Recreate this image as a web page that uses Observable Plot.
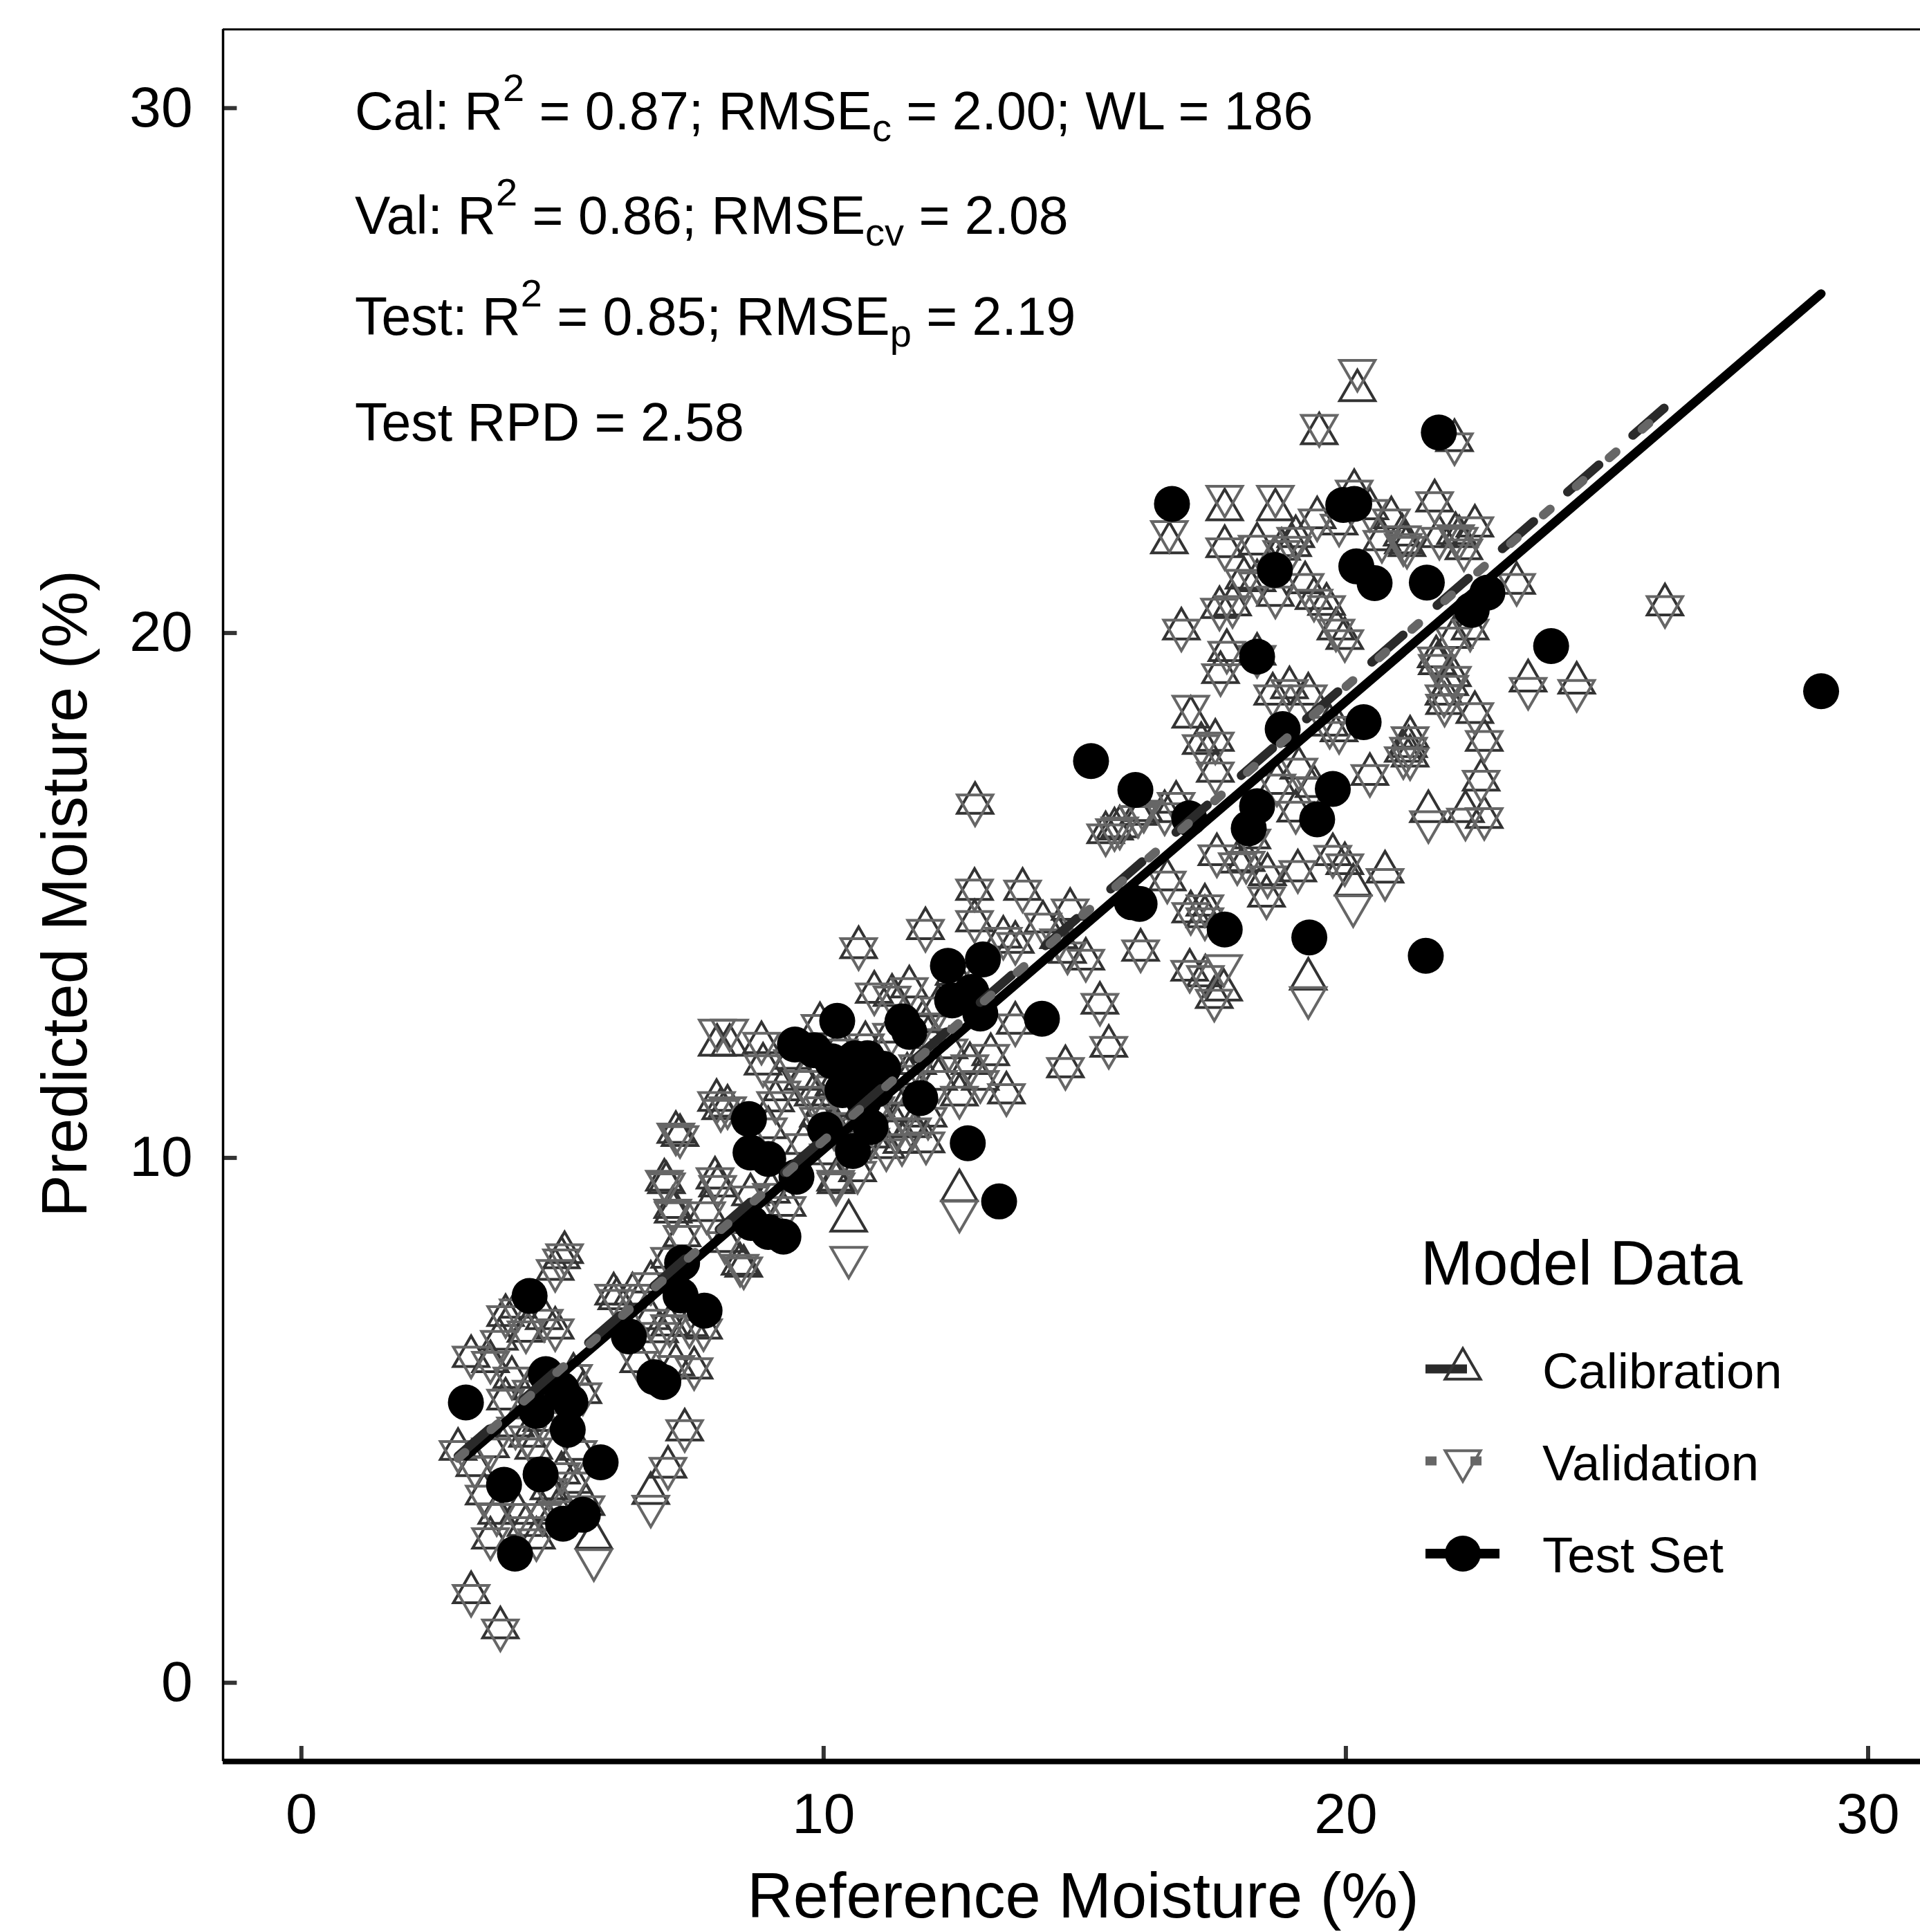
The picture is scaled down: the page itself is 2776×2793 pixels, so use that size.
<!DOCTYPE html>
<html><head><meta charset="utf-8">
<script src="https://cdn.jsdelivr.net/npm/d3@7"></script>
<script src="https://cdn.jsdelivr.net/npm/@observablehq/plot@0.6"></script>
<style>html,body{margin:0;padding:0;background:#fff;} #chart{width:2776px;height:2793px;}</style>
</head><body><div id="chart"></div>
<script>
// ---------- DATA ----------
// Calibration / cross-validation samples: reference moisture, calibration prediction, validation prediction
const refX = [
 3.00,3.25,3.81,3.32,3.62,3.62,3.79,4.03,3.91,3.91,4.30,4.86,4.65,4.86,5.04,5.21,5.39,4.33,4.45,4.98,5.21,4.74,3.74,3.62,4.15,4.50,4.62,5.60,6.69,7.02,7.34,3.25,4.15,4.98,4.40,4.60,5.00,5.30,3.50,4.10,5.45,4.90,4.30,
 10.48,8.47,8.11,7.76,7.11,6.99,7.97,9.00,10.24,5.98,6.34,6.69,7.05,6.69,7.05,7.17,7.52,6.46,7.70,6.04,6.86,7.43,7.17,7.92,7.95,8.16,8.40,7.96,8.20,8.81,8.84,8.03,7.25,6.95,7.12,7.29,9.08,8.94,9.62,10.23,10.09,8.60,9.30,
 10.67,11.95,12.89,13.81,12.89,13.44,13.67,14.72,15.02,16.07,15.29,15.46,14.63,13.50,13.67,13.20,11.96,10.65,10.97,11.31,11.64,12.60,12.90,9.93,12.50,12.20,12.00,12.40,12.80,13.00,12.60,12.20,11.80,9.60,9.80,10.00,10.20,10.40,10.50,10.60,10.80,11.00,11.10,11.30,11.50,11.60,11.70,10.90,11.20,11.40,10.20,9.90,10.30,10.80,11.30,9.40,9.20,11.90,11.50,12.00,14.20,14.50,
 17.30,17.30,17.01,17.48,17.66,18.48,17.92,19.28,19.08,14.67,15.57,15.40,16.13,16.53,16.75,16.58,17.03,17.31,15.67,16.02,18.09,17.53,18.20,18.50,20.14,20.75,
 17.03,17.23,17.50,17.50,18.60,18.92,19.28,19.69,18.68,19.10,19.39,19.87,19.04,19.75,19.98,20.46,21.23,21.10,21.23,21.58,22.29,22.65,22.59,22.65,22.47,21.88,21.99,21.73,
 16.62,17.68,18.65,19.49,20.22,22.08,17.68,18.05,17.58,16.85,17.72,18.65,19.04,19.87,20.16,20.87,21.08,21.70,21.79,22.47,22.26,23.27,22.38,23.49,24.42,26.11,21.10,22.10,22.07,21.75,22.04,21.89,21.20,18.98,19.22,19.39,19.63,19.81,19.98,19.45,20.46,20.69,21.17,22.17,18.30,17.60,17.83,18.30,18.77,18.30
];
const calPred = [
 4.45,1.72,1.05,4.14,4.50,6.12,6.55,5.82,5.41,7.00,6.70,6.76,6.94,7.88,8.20,5.88,5.53,4.70,4.47,4.00,3.82,3.70,3.23,2.76,3.23,2.76,3.23,2.76,3.61,4.11,4.82,6.22,7.16,8.10,5.60,5.00,5.20,4.45,3.60,4.90,3.40,3.30,3.00,
 8.80,7.94,8.41,9.00,9.06,9.53,9.47,9.35,9.53,7.41,7.41,7.64,8.11,6.94,6.82,6.06,6.00,6.12,6.76,7.32,6.69,6.81,10.49,9.62,11.10,10.99,7.98,12.15,12.15,12.20,11.79,10.94,10.43,9.58,8.97,8.52,11.09,10.58,10.28,9.58,10.08,9.30,9.10,
 14.01,14.37,15.12,15.12,14.52,14.21,14.11,14.74,13.79,13.96,12.95,12.13,11.74,11.24,12.57,11.97,10.31,9.76,13.16,13.10,13.26,9.38,16.76,12.56,13.50,12.90,12.30,12.10,11.80,11.50,11.20,11.50,11.80,11.50,11.20,11.00,11.40,11.00,11.60,10.70,11.30,11.00,11.50,11.20,10.90,11.60,10.60,10.40,10.20,10.60,10.60,10.80,12.10,12.20,12.40,11.90,11.30,12.60,10.30,10.80,14.50,14.20,
 14.82,14.60,13.58,13.06,13.20,14.99,15.64,13.41,15.47,13.92,16.27,16.20,16.62,16.60,16.78,15.30,14.69,13.47,16.31,16.55,15.67,15.78,16.10,15.40,15.20,15.45,
 18.40,17.90,17.96,17.37,18.84,18.96,18.84,18.25,17.14,17.43,17.08,18.14,16.61,15.78,15.61,17.31,17.66,17.75,18.02,16.60,16.60,16.49,17.20,17.96,18.49,18.84,19.02,19.55,
 21.72,22.35,22.35,23.80,24.62,23.67,21.65,21.05,20.49,20.08,19.67,20.72,21.84,22.08,22.72,22.20,21.87,22.52,21.84,22.04,21.61,20.95,20.08,19.09,19.05,20.54,21.72,21.90,19.92,19.42,19.19,18.66,17.84,21.67,20.96,20.66,20.55,20.08,19.90,22.20,22.37,21.78,21.67,21.84,19.60,19.25,20.54,21.70,21.60,21.00
];
const valPred = [
 4.40,1.66,1.00,4.10,4.45,6.10,6.50,5.80,5.38,6.97,6.68,6.72,6.90,7.85,8.15,5.85,5.50,4.68,4.45,3.98,3.80,3.68,3.20,2.74,3.20,2.72,3.20,2.34,3.36,4.08,4.80,6.20,7.10,8.05,5.55,4.95,5.15,4.40,3.55,4.85,3.35,3.25,2.95,
 8.10,7.90,8.38,8.95,9.00,9.50,9.45,9.30,9.50,7.38,7.38,7.60,8.08,6.90,6.80,6.02,5.98,6.10,6.72,7.28,6.65,6.78,10.45,9.60,11.05,10.95,7.95,12.43,12.43,12.18,11.75,10.90,10.40,9.55,8.95,8.50,11.05,10.55,10.25,9.55,10.05,9.25,9.05,
 13.98,14.33,15.10,15.08,14.50,14.18,14.08,14.72,13.76,13.94,12.92,12.10,11.70,11.20,12.53,11.95,10.28,9.72,13.12,13.06,13.22,8.98,16.72,12.52,13.45,12.85,12.25,12.05,11.75,11.45,11.15,11.45,11.75,11.45,11.15,10.95,11.35,10.95,11.55,10.65,11.25,10.95,11.45,11.15,10.85,11.55,10.55,10.35,10.15,10.55,10.55,10.75,12.05,12.15,12.35,11.85,11.25,12.55,10.25,10.75,14.45,14.15,
 14.80,14.55,13.55,13.00,13.66,14.95,15.60,13.05,15.45,13.90,16.25,16.15,16.60,16.55,16.75,15.25,14.65,13.45,16.28,16.50,15.63,15.75,16.05,15.35,14.80,15.30,
 18.60,17.85,17.90,17.33,18.80,18.90,18.80,18.20,17.10,17.40,17.05,18.10,16.58,15.74,15.58,17.28,17.60,17.62,18.00,16.40,16.45,16.46,17.17,17.93,18.46,18.80,18.98,19.52,
 21.93,22.60,22.60,23.95,25.00,23.60,21.60,21.00,20.45,20.05,19.63,20.68,21.80,22.05,22.70,22.15,21.83,22.48,21.80,22.00,21.58,20.92,20.05,18.94,18.90,20.50,21.68,21.85,19.90,19.38,19.15,18.62,17.80,21.63,20.92,20.62,20.50,20.05,19.85,22.15,22.33,21.74,21.63,21.80,19.55,19.20,20.50,21.65,21.55,20.95
];
// Independent test set
const testX = [3.15,4.37,4.68,4.98,5.15,4.50,5.10,5.73,4.58,3.88,5.39,5.01,4.09,6.27,6.76,6.93,7.29,7.26,7.72,8.61,8.94,9.23,9.48,8.57,8.60,8.94,9.45,9.82,10.16,10.26,10.84,11.14,11.51,11.64,12.38,13.05,12.46,12.83,13.00,14.18,11.85,10.36,10.77,10.90,10.56,10.03,12.76,13.36,15.90,16.05,15.12,15.97,17.00,18.30,18.14,19.45,19.75,18.79,20.34,18.30,18.64,20.20,20.55,21.55,22.71,22.41,23.93,21.78,16.67,19.95,20.16,17.68,19.30,21.53,29.10,10.50,11.00,10.60];
const testPred = [5.34,7.37,5.88,5.59,5.35,5.18,4.82,4.20,3.97,3.77,3.20,3.03,2.46,6.60,5.82,5.73,8.00,7.38,7.09,8.76,8.59,8.50,9.64,10.74,10.10,9.98,12.16,12.05,11.84,12.61,11.90,11.70,12.60,12.40,13.66,13.78,13.00,13.16,12.75,12.65,11.14,11.29,11.09,10.59,10.13,10.54,10.28,9.17,14.87,14.84,17.56,17.01,16.47,16.70,16.28,16.45,17.03,18.17,18.30,19.55,21.20,21.27,20.95,20.96,20.77,20.44,19.75,23.82,22.46,22.44,22.46,14.35,14.20,13.85,18.89,11.60,11.30,11.90];

const xTicks = [0, 10, 20, 30];
const yTicks = [0, 10, 20, 30];
const seriesNames = ["Calibration", "Validation", "Test Set"];
const legendTitle = "Model Data";
const xTitle = "Reference Moisture (%)";
const yTitle = "Predicted Moisture (%)";
// statistics text: [plain, superscript, plain, subscript, plain]
const statLines = [
  ["Cal: R", "2", " = 0.87; RMSE", "c", " = 2.00; WL = 186"],
  ["Val: R", "2", " = 0.86; RMSE", "cv", " = 2.08"],
  ["Test: R", "2", " = 0.85; RMSE", "p", " = 2.19"],
  ["Test RPD = 2.58"]
];

// ---------- LAYOUT ----------
const W = 2776, H = 2793;
const FONT = "'Liberation Sans', Arial, Helvetica, sans-serif";
const xDomain = [-1.5, 31.0], yDomain = [-1.5, 31.5];
const calColor = "#333333", valColor = "#666666", testColor = "#000000";

const calData = refX.map((x, i) => ({x, y: calPred[i]}));
const valData = refX.map((x, i) => ({x, y: valPred[i]}));
const testData = testX.map((x, i) => ({x, y: testPred[i]}));

const triangleDown = {
  draw(ctx, size) {
    const y = -Math.sqrt(size / (Math.sqrt(3) * 3));
    ctx.moveTo(0, -y * 2);
    ctx.lineTo(-Math.sqrt(3) * y, y);
    ctx.lineTo(Math.sqrt(3) * y, y);
    ctx.closePath();
  }
};
const TRI_R = 19, DOT_R = 26, TRI_SW = 4;

const plot = Plot.plot({
  width: W, height: H,
  marginLeft: 322, marginRight: 0, marginTop: 42, marginBottom: 247,
  x: {domain: xDomain, label: null},
  y: {domain: yDomain, label: null},
  style: {fontFamily: FONT, background: "#fff", color: "#000", overflow: "visible"},
  marks: [
    Plot.axisX({ticks: xTicks, tickSize: 0, tickPadding: 45, fontSize: 82, label: null}),
    Plot.axisY({ticks: yTicks, tickSize: 0, tickPadding: 44, fontSize: 82, label: null}),
    Plot.dot(calData, {x: "x", y: "y", symbol: "triangle", r: TRI_R, fill: "none", stroke: calColor, strokeWidth: TRI_SW}),
    Plot.dot(valData, {x: "x", y: "y", symbol: triangleDown, r: TRI_R, fill: "none", stroke: valColor, strokeWidth: TRI_SW}),
    Plot.dot(testData, {x: "x", y: "y", r: DOT_R, fill: testColor, stroke: null}),
    Plot.linearRegressionY(testData, {x: "x", y: "y", ci: 0, stroke: testColor, strokeWidth: 13}),
    Plot.linearRegressionY(calData, {x: "x", y: "y", ci: 0, stroke: "#2a2a2a", strokeWidth: 13, strokeDasharray: "60,65"}),
    Plot.linearRegressionY(valData, {x: "x", y: "y", ci: 0, stroke: valColor, strokeWidth: 13, strokeDasharray: "13,50"}),
    // axis lines and inward ticks
    Plot.ruleX(xTicks, {x: d => d, y1: () => yDomain[0], y2: () => yDomain[0] + 0.29, stroke: "#333", strokeWidth: 6}),
    Plot.ruleY(yTicks, {y: d => d, x1: () => xDomain[0], x2: () => xDomain[0] + 0.27, stroke: "#333", strokeWidth: 6}),
    Plot.ruleY([yDomain[0]], {stroke: "#000", strokeWidth: 8}),
    Plot.ruleY([yDomain[1]], {stroke: "#000", strokeWidth: 3}),
    Plot.ruleX([xDomain[0]], {stroke: "#000", strokeWidth: 3.5})
  ]
});

const svg = d3.select(plot);
const g = svg.append("g").attr("font-family", FONT).attr("fill", "#000")
  .attr("text-anchor", "start").style("white-space", "pre");

// statistics annotations
const statX = 513, statBase = [187, 338, 484, 637];
statLines.forEach((parts, i) => {
  const t = g.append("text").attr("x", statX).attr("y", statBase[i]).attr("font-size", 77).attr("text-anchor", "start");
  let shift = 0;
  parts.forEach((p, j) => {
    const ts = t.append("tspan").text(p);
    let target = 0;
    if (j === 1) { ts.attr("font-size", 56); target = -41; }
    else if (j === 3) { ts.attr("font-size", 56); target = 17; }
    if (target !== shift) { ts.attr("dy", target - shift); shift = target; }
  });
});

// axis titles
g.append("text").attr("x", 1566).attr("y", 2772).attr("text-anchor", "middle").attr("font-size", 92).text(xTitle);
g.append("text").attr("transform", "translate(125,1292) rotate(-90)").attr("text-anchor", "middle").attr("font-size", 92).text(yTitle);

// legend
const lg = g.append("g");
lg.append("text").attr("x", 2054).attr("y", 1857).attr("font-size", 91).attr("text-anchor", "start").text(legendTitle);
const rowY = [1979, 2112, 2246], labelBase = [2007, 2140, 2273];
const kx0 = 2061, kx1 = 2168, kxc = 2115;
const symSize = Math.PI * TRI_R * TRI_R;
// calibration key
lg.append("line").attr("x1", kx0).attr("x2", kx1).attr("y1", rowY[0]).attr("y2", rowY[0])
  .attr("stroke", "#2a2a2a").attr("stroke-width", 13).attr("stroke-dasharray", "60,65");
lg.append("path").attr("d", d3.symbol(d3.symbolTriangle, symSize)()).attr("transform", `translate(${kxc},${rowY[0]})`)
  .attr("fill", "none").attr("stroke", calColor).attr("stroke-width", TRI_SW);
// validation key
lg.append("line").attr("x1", kx0).attr("x2", kx1).attr("y1", rowY[1]).attr("y2", rowY[1])
  .attr("stroke", valColor).attr("stroke-width", 13).attr("stroke-dasharray", "16,49");
lg.append("path").attr("d", d3.symbol(triangleDown, symSize)()).attr("transform", `translate(${kxc},${rowY[1]})`)
  .attr("fill", "none").attr("stroke", valColor).attr("stroke-width", TRI_SW);
// test key
lg.append("line").attr("x1", kx0).attr("x2", kx1).attr("y1", rowY[2]).attr("y2", rowY[2])
  .attr("stroke", testColor).attr("stroke-width", 14);
lg.append("circle").attr("cx", kxc).attr("cy", rowY[2]).attr("r", DOT_R).attr("fill", testColor);
seriesNames.forEach((name, i) => {
  lg.append("text").attr("x", 2230).attr("y", labelBase[i]).attr("font-size", 72.5).attr("text-anchor", "start").text(name);
});

document.getElementById("chart").appendChild(plot);
</script>
</body></html>
